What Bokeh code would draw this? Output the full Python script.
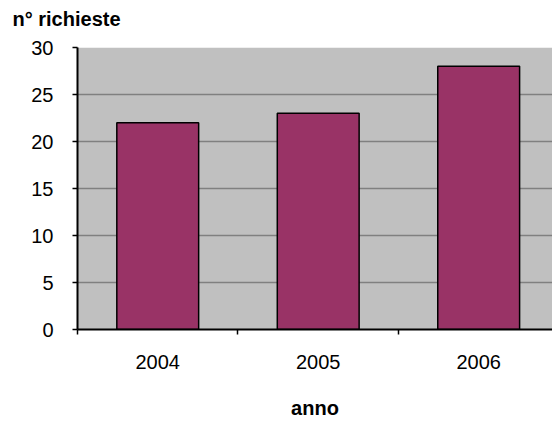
from bokeh.plotting import figure
from bokeh.models import Range1d, FixedTicker, Title
from bokeh.embed import file_html
from bokeh.resources import INLINE

years = ["2004", "2005", "2006"]
requests = [22, 23, 28]
y_ticks = [0, 5, 10, 15, 20, 25, 30]
y_title = "n° richieste"
x_title = "anno"

xs = [i + 0.5 for i in range(len(years))]

p = figure(width=552, height=423, frame_width=475, frame_height=282,
           output_backend="svg", toolbar_location=None,
           x_range=Range1d(0, 2.96), y_range=Range1d(0, 30),
           min_border_left=77, min_border_right=0, min_border_top=47, min_border_bottom=0)
p.title = None

p.background_fill_color = "white"
p.border_fill_color = "white"
p.outline_line_color = None

# plot area fill
p.quad(left=[0], right=[3], bottom=[0], top=[30], fill_color="#C0C0C0", line_color=None, level="underlay")

p.vbar(x=xs, top=requests, width=0.51, fill_color="#993366", line_color="black", line_width=1.5)

# spacer (inner) then the axis title (outer)
p.add_layout(Title(text=" ", text_font_size="1px", standoff=15), "above")
p.add_layout(Title(text=y_title, text_font="Liberation Sans", text_font_size="20px",
                   text_font_style="bold", text_color="black", align="left",
                   offset=-65, standoff=0), "above")

p.xaxis.ticker = FixedTicker(ticks=xs, minor_ticks=[0, 1, 2, 3])
p.xaxis.major_label_overrides = {x: y for x, y in zip(xs, years)}
p.xaxis.major_tick_out = 0
p.xaxis.major_tick_in = 0
p.xaxis.minor_tick_out = 5
p.xaxis.minor_tick_in = 0
p.xaxis.minor_tick_line_color = "black"
p.xaxis.minor_tick_line_width = 1.5
p.xaxis.axis_line_color = "black"
p.xaxis.axis_line_width = 2
p.xaxis.major_label_standoff = 20
p.xaxis.axis_label = x_title
p.xaxis.axis_label_text_font = "Liberation Sans"
p.xaxis.axis_label_text_font_size = "20px"
p.xaxis.axis_label_text_font_style = "bold"
p.xaxis.axis_label_text_color = "black"
p.xaxis.axis_label_standoff = 25
p.xaxis.major_label_text_font = "Liberation Sans"
p.xaxis.major_label_text_font_size = "20px"
p.xaxis.major_label_text_color = "black"

p.yaxis.ticker = FixedTicker(ticks=y_ticks)
p.yaxis.minor_tick_line_color = None
p.yaxis.major_tick_out = 5
p.yaxis.major_tick_in = 0
p.yaxis.major_tick_line_color = "black"
p.yaxis.major_tick_line_width = 1.5
p.yaxis.axis_line_color = "black"
p.yaxis.axis_line_width = 2
p.yaxis.major_label_standoff = 19
p.yaxis.major_label_text_font = "Liberation Sans"
p.yaxis.major_label_text_font_size = "20px"
p.yaxis.major_label_text_color = "black"

p.xgrid.grid_line_color = None
p.ygrid.ticker = FixedTicker(ticks=y_ticks)
p.ygrid.grid_line_color = "#808080"
p.ygrid.grid_line_width = 1.5
p.ygrid.level = "underlay"

open("out.html", "w").write(file_html(p, INLINE))
